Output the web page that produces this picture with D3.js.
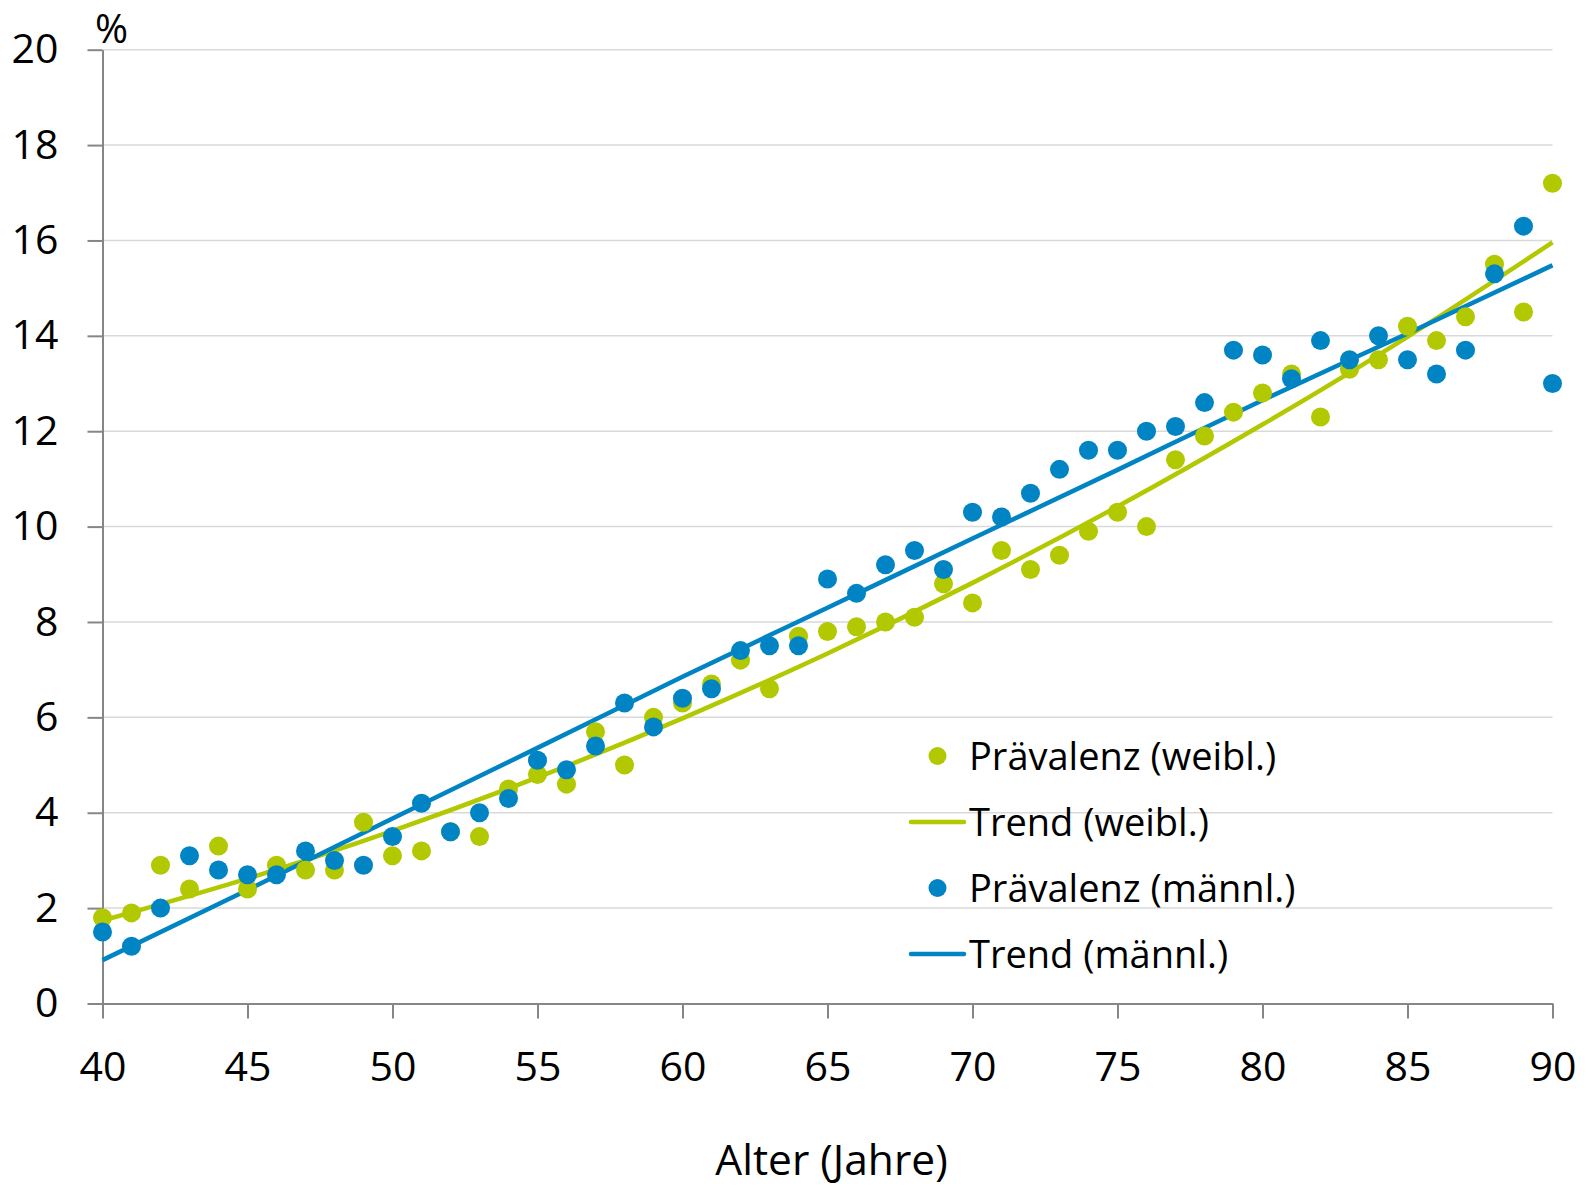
<!DOCTYPE html>
<html>
<head>
<meta charset="utf-8">
<script src="https://cdn.jsdelivr.net/npm/d3@7"></script>
<style>
  body { margin: 0; background: #fff; }
  text { font-family: "Open Sans", Lato, sans-serif; fill: #000; }
</style>
</head>
<body>
<div id="chart"></div>
<script>
// ages 40..90
var ages = d3.range(40, 91);

var femaleValues = [1.8, 1.9, 2.9, 2.4, 3.3, 2.4, 2.9, 2.8, 2.8, 3.8,
  3.1, 3.2, 3.6, 3.5, 4.5, 4.8, 4.6, 5.7, 5.0, 6.0,
  6.3, 6.7, 7.2, 6.6, 7.7, 7.8, 7.9, 8.0, 8.1, 8.8,
  8.4, 9.5, 9.1, 9.4, 9.9, 10.3, 10.0, 11.4, 11.9, 12.4,
  12.8, 13.2, 12.3, 13.3, 13.5, 14.2, 13.9, 14.4, 15.5, 14.5,
  17.2];

var maleValues = [1.5, 1.2, 2.0, 3.1, 2.8, 2.7, 2.7, 3.2, 3.0, 2.9,
  3.5, 4.2, 3.6, 4.0, 4.3, 5.1, 4.9, 5.4, 6.3, 5.8,
  6.4, 6.6, 7.4, 7.5, 7.5, 8.9, 8.6, 9.2, 9.5, 9.1,
  10.3, 10.2, 10.7, 11.2, 11.6, 11.6, 12.0, 12.1, 12.6, 13.7,
  13.6, 13.1, 13.9, 13.5, 14.0, 13.5, 13.2, 13.7, 15.3, 16.3,
  13.0];

// trend lines every 5 years
var trendAges = [40, 45, 50, 55, 60, 65, 70, 75, 80, 85, 90];
var femaleTrend = [1.74, 2.62, 3.62, 4.74, 5.98, 7.34, 8.82, 10.42, 12.14, 13.98, 15.96];
var maleTrend = [0.91, 2.38, 3.88, 5.36, 6.85, 8.30, 9.75, 11.19, 12.65, 14.05, 15.48];

var xTicks = [40, 45, 50, 55, 60, 65, 70, 75, 80, 85, 90];
var yTicks = [0, 2, 4, 6, 8, 10, 12, 14, 16, 18, 20];

var legendLabels = ["Prävalenz (weibl.)", "Trend (weibl.)", "Prävalenz (männl.)", "Trend (männl.)"];

var green = "#b2c800";
var blue = "#0084c4";

var width = 1591, height = 1189;
var plotLeft = 102.5, plotRight = 1552.5, plotTop = 49.7, plotBottom = 1003.5;

var svg = d3.select("#chart").append("svg")
  .attr("width", width)
  .attr("height", height);

var x = d3.scaleLinear().domain([40, 90]).range([plotLeft, plotRight]);
var y = d3.scaleLinear().domain([0, 20]).range([plotBottom, plotTop]);

// gridlines
svg.append("g")
  .selectAll("line")
  .data(yTicks.filter(function(d) { return d > 0; }))
  .enter().append("line")
  .attr("x1", plotLeft).attr("x2", plotRight)
  .attr("y1", function(d) { return y(d); })
  .attr("y2", function(d) { return y(d); })
  .attr("stroke", "#d9d9d9")
  .attr("stroke-width", 1.5);

// axes
var yAxis = svg.append("g")
  .attr("transform", "translate(" + plotLeft + ",0)")
  .call(d3.axisLeft(y).tickValues(yTicks).tickSize(15).tickSizeOuter(0).tickPadding(29));

var xAxis = svg.append("g")
  .attr("transform", "translate(0," + plotBottom + ")")
  .call(d3.axisBottom(x).tickValues(xTicks).tickSize(15).tickSizeOuter(0).tickPadding(33));

[xAxis, yAxis].forEach(function(a) {
  a.select(".domain").attr("stroke", "#868686").attr("stroke-width", 2);
  a.selectAll(".tick line").attr("stroke", "#868686").attr("stroke-width", 2);
  a.selectAll(".tick text").style("font-size", "41px").attr("fill", "#000");
});

// axis titles
svg.append("text")
  .attr("x", 95).attr("y", 43)
  .style("font-size", "40px")
  .text("%");

svg.append("text")
  .attr("x", (plotLeft + plotRight) / 2 + 4).attr("y", 1175)
  .attr("text-anchor", "middle")
  .style("font-size", "42.5px")
  .text("Alter (Jahre)");

// trend lines
var line = d3.line()
  .x(function(d) { return x(d[0]); })
  .y(function(d) { return y(d[1]); })
  .curve(d3.curveNatural);

svg.append("path")
  .datum(d3.zip(trendAges, femaleTrend))
  .attr("d", line)
  .attr("fill", "none")
  .attr("stroke", green)
  .attr("stroke-width", 4.5);

svg.append("path")
  .datum(d3.zip(trendAges, maleTrend))
  .attr("d", line)
  .attr("fill", "none")
  .attr("stroke", blue)
  .attr("stroke-width", 4.5);

// points
svg.append("g")
  .selectAll("circle")
  .data(d3.zip(ages, femaleValues))
  .enter().append("circle")
  .attr("cx", function(d) { return x(d[0]); })
  .attr("cy", function(d) { return y(d[1]); })
  .attr("r", 9.5)
  .attr("fill", green);

svg.append("g")
  .selectAll("circle")
  .data(d3.zip(ages, maleValues))
  .enter().append("circle")
  .attr("cx", function(d) { return x(d[0]); })
  .attr("cy", function(d) { return y(d[1]); })
  .attr("r", 9.5)
  .attr("fill", blue);

// legend
var legendY = [756, 822, 888, 954];
var legendColor = [green, green, blue, blue];
var legend = svg.append("g");

legendLabels.forEach(function(label, i) {
  if (i % 2 == 0) {
    legend.append("circle")
      .attr("cx", 937.5).attr("cy", legendY[i])
      .attr("r", 9).attr("fill", legendColor[i]);
  } else {
    legend.append("line")
      .attr("x1", 911).attr("x2", 964)
      .attr("y1", legendY[i]).attr("y2", legendY[i])
      .attr("stroke", legendColor[i])
      .attr("stroke-width", 4.5)
      .attr("stroke-linecap", "round");
  }
  legend.append("text")
    .attr("x", 969).attr("y", legendY[i])
    .attr("dy", "0.36em")
    .style("font-size", "38px")
    .text(label);
});
</script>
</body>
</html>
